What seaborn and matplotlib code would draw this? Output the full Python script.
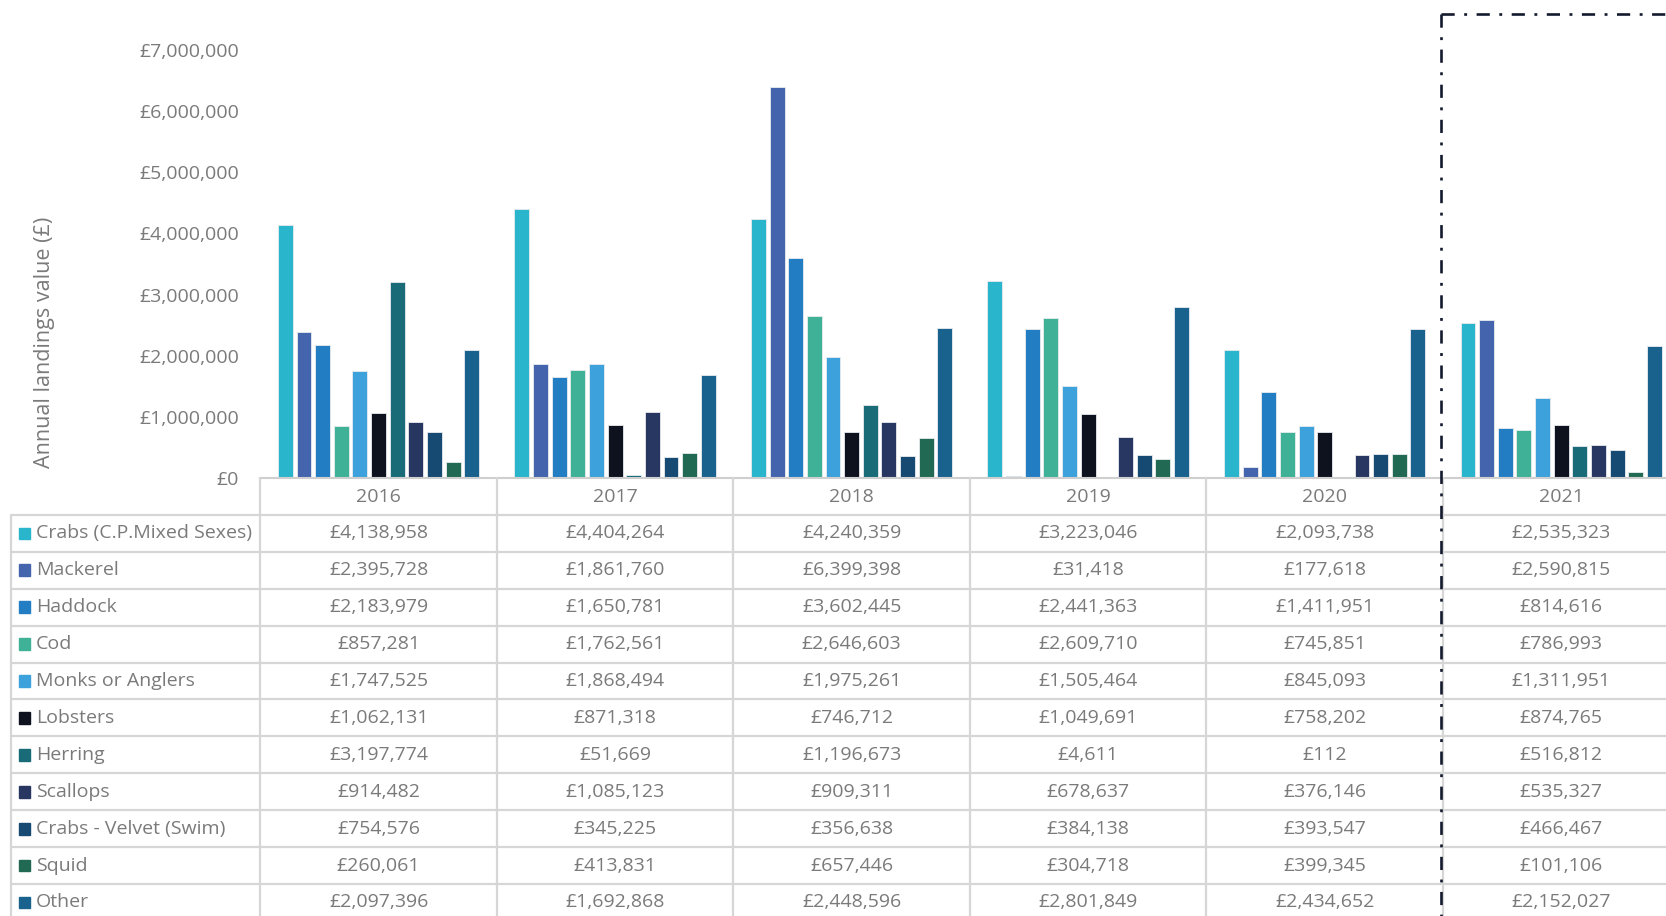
import numpy as np
import pandas as pd
import matplotlib
matplotlib.use("Agg")
import matplotlib.pyplot as plt
import seaborn as sns
from matplotlib.lines import Line2D
from matplotlib.patches import Rectangle

years = ["2016", "2017", "2018", "2019", "2020", "2021"]
species = ["Crabs (C.P.Mixed Sexes)", "Mackerel", "Haddock", "Cod", "Monks or Anglers",
           "Lobsters", "Herring", "Scallops", "Crabs - Velvet (Swim)", "Squid", "Other"]
crabs_cp = [4138958, 4404264, 4240359, 3223046, 2093738, 2535323]
mackerel = [2395728, 1861760, 6399398, 31418, 177618, 2590815]
haddock = [2183979, 1650781, 3602445, 2441363, 1411951, 814616]
cod = [857281, 1762561, 2646603, 2609710, 745851, 786993]
monks = [1747525, 1868494, 1975261, 1505464, 845093, 1311951]
lobsters = [1062131, 871318, 746712, 1049691, 758202, 874765]
herring = [3197774, 51669, 1196673, 4611, 112, 516812]
scallops = [914482, 1085123, 909311, 678637, 376146, 535327]
crabs_velvet = [754576, 345225, 356638, 384138, 393547, 466467]
squid = [260061, 413831, 657446, 304718, 399345, 101106]
other = [2097396, 1692868, 2448596, 2801849, 2434652, 2152027]
colors = ["#29B5CC", "#4464AD", "#237DC2", "#3FB196", "#3DA1DB", "#0E121F",
          "#186B77", "#283761", "#164A72", "#216952", "#1A628E"]

series = [crabs_cp, mackerel, haddock, cod, monks, lobsters, herring, scallops,
          crabs_velvet, squid, other]
rows = []
for sp, vals in zip(species, series):
    for y, v in zip(years, vals):
        rows.append({"year": y, "species": sp, "value": v})
df = pd.DataFrame(rows)

sns.set_style("white")
plt.rcParams['font.family'] = ['Open Sans', 'DejaVu Sans']

W, H = 1666, 916
fig = plt.figure(figsize=(W / 100, H / 100), dpi=100)

def fx(px):
    return px / W

def fy(py):
    return 1 - py / H

FS = 14
TC = "#7a7a7a"
left_px = 260.3
base_px = 478.1
top_px = 49.9
ax = fig.add_axes([fx(left_px), fy(base_px), 1 - fx(left_px), (base_px - top_px) / H])
sns.barplot(data=df, x="year", y="value", hue="species", hue_order=species,
            order=years, palette=colors, saturation=1, width=0.867, gap=0.2, ax=ax,
            legend=False, edgecolor="#e8ecef", linewidth=0.6)
xr = 5.443
ax.set_xlim(-0.5, xr)
ax.set_ylim(0, 7_000_000)
ax.set_yticks(np.arange(0, 7_000_001, 1_000_000))
ax.set_yticklabels([f"£{int(v):,}" for v in np.arange(0, 7_000_001, 1_000_000)],
                   color=TC, fontsize=FS)
ax.tick_params(axis="y", length=0, pad=15.5)
ax.set_xticks([])
ax.set_xlabel("")
ax.set_ylabel("")
for s in ["top", "right", "left"]:
    ax.spines[s].set_visible(False)
ax.spines["bottom"].set_color("#cfcfcf")
ax.spines["bottom"].set_linewidth(1.5)
fig.text(fx(45), fy(342), "Annual landings value (£)", rotation=90, ha="center",
         va="center", fontsize=15.5, color=TC)

# table
row_h = 36.9
nrows = 12
tab = fig.add_axes([fx(left_px), fy(base_px + nrows * row_h), 1 - fx(left_px), nrows * row_h / H])
tab.set_xlim(-0.5, xr)
tab.set_ylim(nrows, 0)
tab.axis("off")
lab_left = -0.5 - (260.3 - 10.6) / (222.6 * 1666 / 1568)
gc = "#d6d6d6"
lw = 1.6
for r in range(1, nrows + 1):
    tab.plot([lab_left, xr], [r, r], color=gc, lw=lw, clip_on=False, solid_capstyle="butt")
for i in range(6):
    tab.plot([i - 0.5, i - 0.5], [0, nrows], color=gc, lw=lw, clip_on=False)
tab.plot([lab_left, lab_left], [1, nrows], color=gc, lw=lw, clip_on=False)
for i, y in enumerate(years):
    tab.text(i, 0.5, y, ha="center", va="center", fontsize=FS, color=TC)
for r, (sp, vals, c) in enumerate(zip(species, series, colors)):
    yc = r + 1.5
    tab.add_patch(Rectangle((lab_left + 0.035, yc - 0.16), 0.047, 0.32, color=c,
                            clip_on=False))
    tab.text(lab_left + 0.107, yc, sp, ha="left", va="center", fontsize=FS,
             color=TC, clip_on=False)
    for i, v in enumerate(vals):
        tab.text(i, yc, f"£{v:,}", ha="center", va="center", fontsize=FS, color=TC)

# dash-dot box
dcol = "#141a2e"
fig.add_artist(Line2D([fx(1441), fx(1441)], [fy(14), 0], color=dcol, lw=1.9,
                      linestyle=(0, (5, 3.6, 1.1, 3.6))))
fig.add_artist(Line2D([fx(1441), 1], [fy(14), fy(14)], color=dcol, lw=1.9,
                      linestyle=(0, (5, 3.6, 1.1, 3.6))))

fig.savefig("out.png", dpi=100, facecolor="white")
